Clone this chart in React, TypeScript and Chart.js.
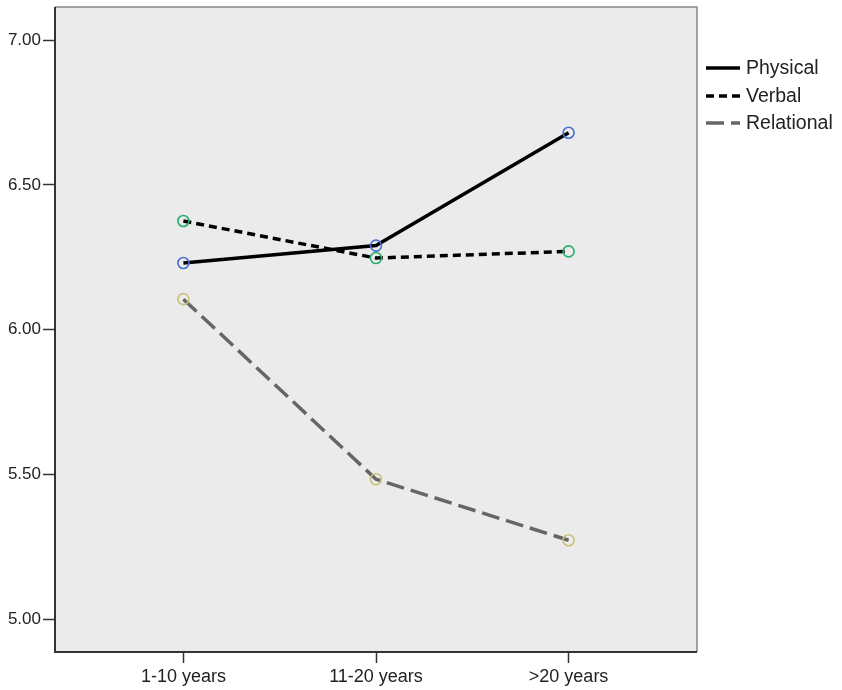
import React, { useEffect, useRef } from "react";
import { Chart, registerables } from "chart.js";

Chart.register(...registerables);

const categories = ["1-10 years", "11-20 years", ">20 years"];
const categoryPositions = [1, 2, 3];
const physical = [6.23, 6.29, 6.68];
const verbal = [6.375, 6.247, 6.27];
const relational = [6.105, 5.483, 5.272];
const yTicks = [5.0, 5.5, 6.0, 6.5, 7.0];
const seriesNames = ["Physical", "Verbal", "Relational"];

const FONT = "'Liberation Sans', Arial, sans-serif";

export default function App() {
  const ref = useRef<HTMLCanvasElement | null>(null);

  useEffect(() => {
    if (!ref.current) return;
    const toXY = (vals: number[]) =>
      vals.map((v, i) => ({ x: categoryPositions[i], y: v }));

    const lineStyles = [
      { color: "#000000", dash: [] as number[], width: 3.5 },
      { color: "#000000", dash: [8, 5], width: 3.5 },
      { color: "#666666", dash: [18, 7], width: 3.5 },
    ];

    const bgPlugin = {
      id: "bgFrame",
      beforeDatasetsDraw(chart: any) {
        const { ctx, chartArea: a } = chart;
        ctx.save();
        ctx.fillStyle = "#ebebeb";
        ctx.fillRect(a.left, a.top, a.right - a.left, a.bottom - a.top);
        ctx.lineWidth = 1.5;
        ctx.strokeStyle = "#888888";
        ctx.beginPath();
        ctx.moveTo(a.left, a.top);
        ctx.lineTo(a.right, a.top);
        ctx.lineTo(a.right, a.bottom);
        ctx.stroke();
        ctx.strokeStyle = "#333333";
        ctx.lineWidth = 2;
        ctx.beginPath();
        ctx.moveTo(a.left, a.top);
        ctx.lineTo(a.left, a.bottom);
        ctx.lineTo(a.right, a.bottom);
        ctx.stroke();
        ctx.restore();
      },
      afterDraw(chart: any) {
        const { ctx, chartArea: a } = chart;
        ctx.save();
        const x0 = a.right + 9;
        const rows = [68, 96, 123];
        seriesNames.forEach((name, i) => {
          const s = lineStyles[i];
          ctx.strokeStyle = s.color;
          ctx.lineWidth = s.width;
          ctx.setLineDash(s.dash);
          ctx.beginPath();
          ctx.moveTo(x0, rows[i]);
          ctx.lineTo(x0 + 34, rows[i]);
          ctx.stroke();
          ctx.setLineDash([]);
          ctx.fillStyle = "#222222";
          ctx.font = `19.5px ${FONT}`;
          ctx.textBaseline = "middle";
          ctx.textAlign = "left";
          ctx.fillText(name, x0 + 40, rows[i] + 1);
        });
        ctx.restore();
      },
    };

    const mk = (i: number, vals: number[], pc: string) => ({
      label: seriesNames[i],
      data: toXY(vals),
      borderColor: lineStyles[i].color,
      borderWidth: lineStyles[i].width,
      borderDash: lineStyles[i].dash,
      pointRadius: 5.5,
      pointBorderWidth: 1.6,
      pointBorderColor: pc,
      pointBackgroundColor: "rgba(0,0,0,0)",
      tension: 0,
    });

    const chart = new Chart(ref.current, {
      type: "line",
      data: {
        datasets: [
          mk(0, physical, "#4a6fce"),
          mk(1, verbal, "#22b06a"),
          mk(2, relational, "#c9c17a"),
        ],
      },
      options: {
        animation: false,
        responsive: false,
        devicePixelRatio: 1,
        layout: { padding: { top: 5, right: 145, left: 0, bottom: 0 } },
        plugins: {
          legend: { display: false },
          tooltip: { enabled: false },
        },
        scales: {
          x: {
            type: "linear",
            min: 1 / 3,
            max: 11 / 3,
            afterBuildTicks: (scale: any) => {
              scale.ticks = categoryPositions.map((v) => ({ value: v }));
            },
            afterFit: (scale: any) => {
              scale.height = 38;
              scale.paddingLeft = 0;
              scale.paddingRight = 0;
            },
            ticks: {
              autoSkip: false,
              maxRotation: 0,
              padding: 3,
              color: "#222222",
              font: { family: FONT, size: 18 },
              callback: (v: any) => {
                const i = categoryPositions.indexOf(Number(v));
                return i >= 0 ? categories[i] : "";
              },
            },
            grid: {
              drawOnChartArea: false,
              drawTicks: true,
              tickLength: 11,
              tickColor: "#333333",
              tickWidth: 1.5,
            },
            border: { display: false },
          },
          y: {
            type: "linear",
            min: 4.886,
            max: 7.114,
            afterBuildTicks: (scale: any) => {
              scale.ticks = yTicks.map((v) => ({ value: v }));
            },
            afterFit: (scale: any) => {
              scale.width = 55;
              scale.paddingTop = 0;
              scale.paddingBottom = 0;
            },
            ticks: {
              padding: 2,
              color: "#222222",
              font: { family: FONT, size: 17 },
              callback: (v: any) => Number(v).toFixed(2),
            },
            grid: {
              drawOnChartArea: false,
              drawTicks: true,
              tickLength: 12,
              tickColor: "#333333",
              tickWidth: 1.5,
            },
            border: { display: false },
          },
        },
      },
      plugins: [bgPlugin],
    });
    return () => chart.destroy();
  }, []);

  return (
    <div style={{ position: "fixed", left: 0, top: 0, width: 842, height: 690, background: "#ffffff" }}>
      <canvas ref={ref} width={842} height={690} style={{ display: "block", width: 842, height: 690 }} />
    </div>
  );
}
